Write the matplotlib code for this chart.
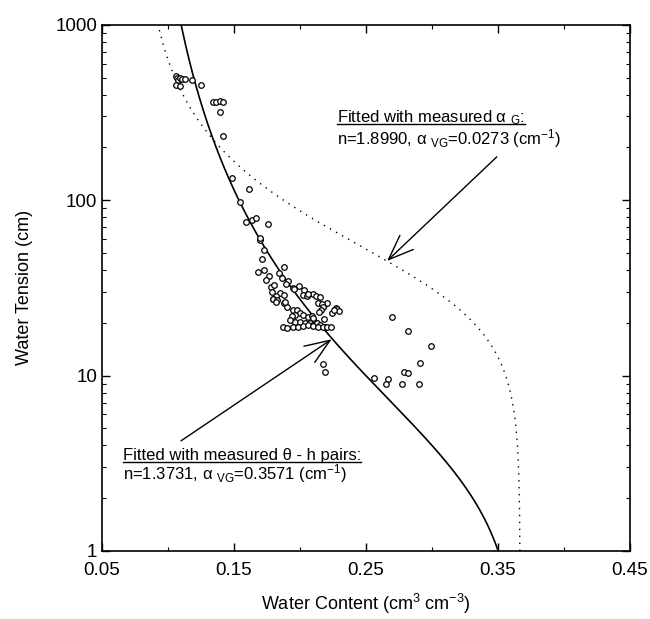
import numpy as np
import matplotlib
matplotlib.use('Agg')
from matplotlib import pyplot as plt
from matplotlib.ticker import FixedLocator, NullFormatter, LogLocator
from matplotlib.lines import Line2D

plt.rcParams['font.family'] = ['Liberation Sans', 'DejaVu Sans']
plt.rcParams['mathtext.fontset'] = 'custom'
plt.rcParams['mathtext.rm'] = 'Liberation Sans'
plt.rcParams['mathtext.it'] = 'Liberation Sans:italic'

# measured water content / tension pairs
theta_obs = [0.1061, 0.1070, 0.1078, 0.1091, 0.1106, 0.1129, 0.1061, 0.1091, 0.1180, 0.1250,
             0.1339, 0.1364, 0.1394, 0.1419, 0.1394, 0.1419,
             0.1483, 0.1614, 0.1548, 0.1589, 0.1639, 0.1667, 0.1760, 0.1697, 0.1697, 0.1725,
             0.1714, 0.1877, 0.1725, 0.1684, 0.1767, 0.1841, 0.1861, 0.1911, 0.1742, 0.1896,
             0.1778, 0.1805, 0.1995, 0.1949, 0.2033, 0.1848, 0.1816, 0.2023, 0.2051, 0.2096,
             0.2121, 0.2152, 0.1795, 0.1881, 0.2134, 0.2182, 0.2202, 0.2273, 0.1879, 0.1899,
             0.1955, 0.2063, 0.1786, 0.1793, 0.1828, 0.1818, 0.1886, 0.2164, 0.2177, 0.2157,
             0.2146, 0.2240, 0.2278, 0.2298, 0.2260,
             0.1949, 0.1975, 0.2000, 0.1962, 0.2025, 0.2063, 0.2089, 0.2101, 0.1937, 0.1924,
             0.1962, 0.2000, 0.2038, 0.2076, 0.2101, 0.2127, 0.2152, 0.2189,
             0.1874, 0.1899, 0.1949, 0.1987, 0.2025, 0.2063, 0.2101, 0.2139, 0.2177, 0.2202,
             0.2233, 0.2184, 0.2172, 0.2189,
             0.2695, 0.2816, 0.2990, 0.2909, 0.2790, 0.2820, 0.2904, 0.2773, 0.2664, 0.2652,
             0.2563]
h_obs = [507, 497, 486, 497, 490, 492, 455, 445, 486, 451,
         365, 363, 368, 363, 318, 231,
         133.5, 116, 98.2, 74.9, 76.6, 79, 73, 59.4, 60.5, 51.9,
         46.1, 41.6, 40, 39, 36.8, 38.5, 36.2, 34.6, 35, 33.2,
         31.9, 32.9, 32.4, 31.5, 30.8, 29.5, 28.4, 28.8, 28.4, 29.2,
         28.4, 28, 27.4, 28.7, 25.8, 25.3, 26, 24.4, 25.8, 24.7,
         31, 29.2, 29.9, 27.4, 27, 26.2, 26.1, 25.5, 24.5, 23.7,
         23, 22.8, 24, 23.4, 23.7,
         23.5, 23.7, 22.7, 22.2, 22.2, 21.7, 21.9, 21.2, 21.9, 20.8,
         20.3, 20.3, 19.9, 19.9, 19.4, 19.9, 19.4, 19.0,
         19.0, 18.6, 18.8, 19.0, 19.2, 19.3, 19.1, 18.8, 18.9, 19.0,
         19.0, 21.0, 11.6, 10.5,
         21.7, 18.0, 14.8, 11.8, 10.5, 10.3, 8.9, 9.0, 9.6, 9.0,
         9.7]

# van Genuchten parameters
theta_r = 0.0777
theta_s = 0.3668
n_pairs, alpha_pairs = 1.3731, 0.3571   # fitted with theta-h pairs
n_ag, alpha_ag = 1.8990, 0.0273          # fitted with measured alpha_G

def vg(h, n, alpha):
    m = 1.0 - 1.0 / n
    return theta_r + (theta_s - theta_r) / (1.0 + (alpha * h) ** n) ** m

h = np.logspace(0, 3, 400)

fig = plt.figure(figsize=(6.5, 6.19), dpi=100)
ax = fig.add_axes([0.157, 0.110, 0.812, 0.850])

ax.plot(vg(h, n_pairs, alpha_pairs), h, color='black', lw=1.2)
ax.plot(vg(h, n_ag, alpha_ag), h, color='black', lw=1.0, linestyle=(0, (1, 4)))
ax.plot(theta_obs, h_obs, linestyle='none', marker='o', markersize=4,
        markerfacecolor='white', markeredgecolor='black', markeredgewidth=0.9)

ax.set_yscale('log')
ax.set_xlim(0.05, 0.45)
ax.set_ylim(1, 1000)
ax.set_xticks([0.05, 0.15, 0.25, 0.35, 0.45])
ax.set_xticklabels(['0.05', '0.15', '0.25', '0.35', '0.45'])
ax.xaxis.set_minor_locator(FixedLocator([0.10, 0.20, 0.30, 0.40]))
ax.set_yticks([1, 10, 100, 1000])
ax.set_yticklabels(['1', '10', '100', '1000'])
ax.yaxis.set_minor_locator(LogLocator(base=10, subs=np.arange(2, 10)))
ax.yaxis.set_minor_formatter(NullFormatter())
ax.tick_params(which='both', direction='in', top=True, right=True, labelsize=13.5)
ax.tick_params(which='major', length=6, width=1)
ax.tick_params(which='minor', length=3, width=0.8)
ax.tick_params(axis='x', pad=8)
for s in ax.spines.values():
    s.set_linewidth(1.2)

ax.set_xlabel('Water Content (cm$^{3}$ cm$^{-3}$)', fontsize=13, labelpad=9)
ax.set_ylabel('Water Tension (cm)', fontsize=13, labelpad=16)

# arrows pointing to the two fitted curves
arrow = dict(arrowstyle='->,head_length=0.9,head_width=0.35', color='black', lw=1.0,
             shrinkA=0, shrinkB=0, mutation_scale=20)
ax.annotate('', xy=(0.266, 45), xytext=(0.3492, 176.6), arrowprops=arrow)
ax.annotate('', xy=(0.224, 16.1), xytext=(0.1098, 4.24), arrowprops=arrow)

fs = 12
t1 = ax.text(0.445, 0.814, r'Fitted with measured α $_{\mathregular{G}}$:', transform=ax.transAxes,
             fontsize=fs, va='baseline')
ax.text(0.445, 0.772, r'n=1.8990, α $_{\mathregular{VG}}$=0.0273 (cm$^{\mathregular{-1}}$)',
        transform=ax.transAxes, fontsize=fs, va='baseline')
t2 = ax.text(0.04, 0.172, 'Fitted with measured θ - h pairs:', transform=ax.transAxes,
             fontsize=fs, va='baseline')
ax.text(0.04, 0.135, r'n=1.3731, α $_{\mathregular{VG}}$=0.3571 (cm$^{\mathregular{-1}}$)',
        transform=ax.transAxes, fontsize=fs, va='baseline')

# underline the two headings
fig.canvas.draw()
r = fig.canvas.get_renderer()
for t in (t1, t2):
    bb = t.get_window_extent(r)
    base = ax.transAxes.transform(t.get_position())[1] - 1.5
    x0, y0 = fig.transFigure.inverted().transform((bb.x0, base))
    x1, _ = fig.transFigure.inverted().transform((bb.x1, base))
    fig.add_artist(Line2D([x0, x1], [y0, y0], color='black', lw=1.0,
                          transform=fig.transFigure))

fig.savefig('out.png', dpi=100)
